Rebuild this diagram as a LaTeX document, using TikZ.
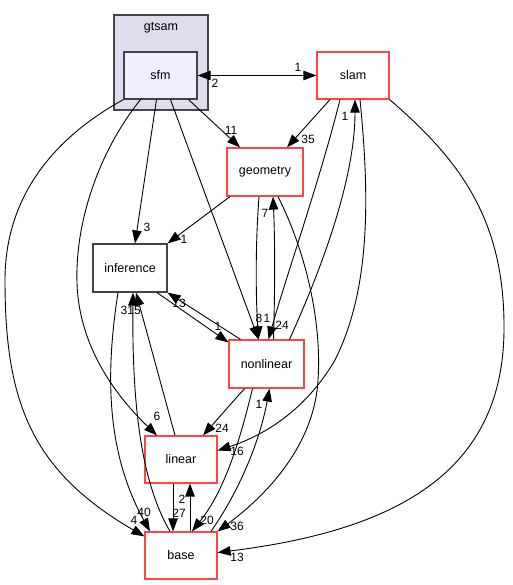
\documentclass[tikz,border=0pt]{standalone}
\usepackage{fontspec}
\setmainfont{Liberation Sans}
\usetikzlibrary{arrows.meta}
\definecolor{redc}{RGB}{255,68,68}
\definecolor{grayc}{RGB}{68,68,68}
\definecolor{clusterfill}{RGB}{221,221,238}
\definecolor{sfmfill}{RGB}{238,238,255}
\begin{document}
\begin{tikzpicture}[x=1pt,y=-1pt,
  every node/.style={font=\fontsize{12.5}{14}\selectfont},
  dirr/.style={draw=redc, line width=1.2pt, fill=white, minimum width=72pt, minimum height=47pt, inner sep=0pt},
  dirg/.style={draw=grayc, line width=1.2pt, minimum width=73pt, minimum height=47pt, inner sep=0pt},
  clusterbox/.style={draw=grayc, line width=1.2pt, fill=clusterfill, minimum width=94pt, minimum height=95pt, inner sep=0pt},
  lab/.style={inner sep=0pt, font=\fontsize{12}{13}\selectfont},
  dep/.style={draw=black, line width=0.9pt, -{Triangle[length=13pt,width=9.5pt]}},
  depboth/.style={draw=black, line width=0.9pt, {Triangle[length=13pt,width=9.5pt]}-{Triangle[length=13pt,width=9.5pt]}}]
\useasboundingbox (0,0) rectangle (512,585);
% cluster
\node[clusterbox] (gtsamc) at (161,62.5) {};
\node (gtsaml) at (161,28) {gtsam};
% nodes
\node[dirg, fill=sfmfill] (sfm) at (160.5,75.5) {sfm};
\node[dirr] (slam) at (353,75.5) {slam};
\node[dirr, minimum width=76pt, minimum height=48pt] (geometry) at (265,172) {geometry};
\node[dirg, fill=white, minimum width=74pt, minimum height=48pt] (inference) at (130,268) {inference};
\node[dirr, minimum width=75pt, minimum height=48pt] (nonlinear) at (266.5,364) {nonlinear};
\node[dirr] (linear) at (181,459.5) {linear};
\node[dirr] (base) at (181,555.5) {base};
% edges
\draw[depboth] (sfm.east) -- (slam.west);
\draw[dep] ([xshift=28pt]sfm.south) -- ([xshift=-25pt]geometry.north);
\draw[dep] ([xshift=-23pt]slam.south) -- ([xshift=22pt]geometry.north);
\draw[dep] ([xshift=-4pt]sfm.south) -- ([xshift=5pt]inference.north);
\draw[dep] ([xshift=-35pt]geometry.south) -- (inference.north east);
\draw[dep] ([xshift=10pt]sfm.south) -- ([xshift=-8pt]nonlinear.north);
\draw[dep] ([xshift=-6pt]geometry.south) .. controls (255,250) and (256,300) .. ([xshift=-8pt]nonlinear.north);
\draw[dep] ([xshift=7pt]nonlinear.north) .. controls (275,290) and (275,240) .. ([xshift=8pt]geometry.south);
\draw[dep] ([xshift=-13pt]slam.south) .. controls (320,180) and (285,280) .. ([xshift=2pt]nonlinear.north);
\draw[dep] ([xshift=23pt]nonlinear.north) .. controls (330,250) and (355,170) .. ([xshift=2pt]slam.south);
\draw[dep] ([xshift=7pt]slam.south) .. controls (370,200) and (370,290) .. (335,360) .. controls (300,420) and (250,440) .. ([yshift=9pt]linear.east);
\draw[dep] (slam.south east) .. controls (460,160) and (505,220) .. (504,330) .. controls (503,470) and (400,530) .. ([yshift=3pt]base.east);
\draw[dep] ([xshift=13pt]geometry.south) .. controls (305,250) and (322,320) .. (318,380) .. controls (314,450) and (260,500) .. (base.north east);
\draw[dep] ([xshift=-20pt]sfm.south) .. controls (100,150) and (75,220) .. (77,283) .. controls (79,350) and (120,400) .. ([xshift=-24pt]linear.north);
\draw[dep] (sfm.south west) .. controls (50,140) and (5,200) .. (5,280) .. controls (5,400) and (30,470) .. ([yshift=-5pt]base.north west);
\draw[dep] ([xshift=-12pt]inference.south) .. controls (106,370) and (105,450) .. ([xshift=-31pt]base.north);
\draw[dep] ([xshift=-11pt]base.north) .. controls (140,480) and (132,400) .. ([xshift=3pt]inference.south);
\draw[dep] ([xshift=-6pt]linear.north) -- ([xshift=6pt]inference.south);
\draw[dep] ([xshift=27pt]inference.south) -- ([yshift=-3pt]nonlinear.north west);
\draw[dep] ([xshift=-26pt]nonlinear.north) -- (inference.south east);
\draw[dep] ([xshift=-22pt]nonlinear.south) -- ([xshift=22pt]linear.north);
\draw[dep] ([xshift=-14pt]nonlinear.south) .. controls (240,440) and (225,490) .. ([xshift=11pt]base.north);
\draw[dep] ([xshift=30pt]base.north) .. controls (240,490) and (260,440) .. ([xshift=3pt]nonlinear.south);
\draw[dep] ([xshift=-8pt]linear.south) -- ([xshift=-8pt]base.north);
\draw[dep] ([xshift=9pt]base.north) -- ([xshift=9pt]linear.south);
% labels
\node[lab] (l01) at (215,83) {2};
\node[lab] (l02) at (298,67) {1};
\node[lab] (l03) at (231,130) {11};
\node[lab] (l04) at (308,139) {35};
\node[lab] (l05) at (147,227) {3};
\node[lab] (l06) at (184,239) {1};
\node[lab] (l07) at (259,318) {8};
\node[lab] (l08) at (267,318) {1};
\node[lab] (l09) at (282,325) {24};
\node[lab] (l10) at (345,116) {1};
\node[lab] (l11) at (265,213) {7};
\node[lab] (l12) at (179,303) {13};
\node[lab] (l13) at (218,326) {1};
\node[lab] (l14) at (124,310) {3};
\node[lab] (l15) at (134,310) {15};
\node[lab] (l16) at (157,416) {6};
\node[lab] (l17) at (222,428) {24};
\node[lab] (l18) at (237,451) {16};
\node[lab] (l19) at (259,404) {1};
\node[lab] (l20) at (134,520) {4};
\node[lab] (l21) at (144,512) {40};
\node[lab] (l22) at (182,499) {2};
\node[lab] (l23) at (179,513) {27};
\node[lab] (l24) at (207,520) {20};
\node[lab] (l25) at (237,526) {36};
\node[lab] (l26) at (237,557) {13};
\end{tikzpicture}
\end{document}
